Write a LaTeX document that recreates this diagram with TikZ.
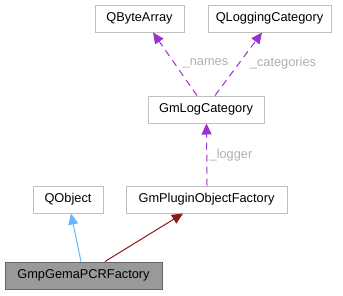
\documentclass[tikz,border=0pt]{standalone}
\usepackage{fontspec}
\setmainfont{Liberation Sans}
\usetikzlibrary{arrows.meta}
\definecolor{boxline}{HTML}{BFBFBF}
\definecolor{curfill}{HTML}{999999}
\definecolor{curline}{HTML}{666666}
\definecolor{usecol}{HTML}{9A32CD}
\definecolor{lblcol}{HTML}{B0B0B0}
\definecolor{pubcol}{HTML}{63B8FF}
\definecolor{privcol}{HTML}{8B1A1A}
\tikzset{
  cls/.style={draw=boxline, line width=1pt, fill=white, rectangle, minimum height=27pt, inner sep=0pt, font=\fontsize{12.8}{14}\selectfont},
  curcls/.style={cls, draw=curline, fill=curfill},
  uses/.style={draw=usecol, line width=1pt, dash pattern=on 7pt off 5pt, -{Triangle[length=11pt,width=10pt,fill=usecol]}},
  pubinh/.style={draw=pubcol, line width=1pt, -{Triangle[length=11pt,width=10pt,fill=pubcol]}},
  privinh/.style={draw=privcol, line width=1pt, -{Triangle[length=11pt,width=10pt,fill=privcol]}},
  lbl/.style={text=lblcol, inner sep=0pt, font=\fontsize{12.8}{14}\selectfont}
}
\begin{document}
\begin{tikzpicture}[x=1pt,y=-1pt]
\useasboundingbox[fill=white] (0,0) rectangle (343,295);
\node[cls, minimum width=89pt] (qba) at (139.5,18.5) {QByteArray};
\node[cls, minimum width=123pt] (qlc) at (269.5,18.5) {QLoggingCategory};
\node[cls, minimum width=116pt] (glc) at (206,109.5) {GmLogCategory};
\node[cls, minimum width=70pt] (qob) at (68,199.5) {QObject};
\node[cls, minimum width=161pt] (gpf) at (206.5,199.5) {GmPluginObjectFactory};
\node[curcls, minimum width=157pt] (gpcr) at (83.5,275.5) {GmpGemaPCRFactory};
\draw[uses] ([xshift=-9pt]glc.north) -- ([xshift=13.5pt]qba.south);
\draw[uses] ([xshift=9pt]glc.north) -- ([xshift=-7.5pt]qlc.south);
\draw[uses] ([xshift=0.5pt]gpf.north) -- ([xshift=0.5pt]glc.south);
\draw[pubinh] ([xshift=-2.5pt]gpcr.north) -- ([xshift=3pt]qob.south);
\draw[privinh] ([xshift=21.5pt]gpcr.north) -- ([xshift=-23.5pt]gpf.south);
\node[lbl] (lnames) at (205.5,63.5) {\_names};
\node[lbl] (lcat) at (283,63.5) {\_categories};
\node[lbl] (llog) at (231,155) {\_logger};
\end{tikzpicture}
\end{document}
